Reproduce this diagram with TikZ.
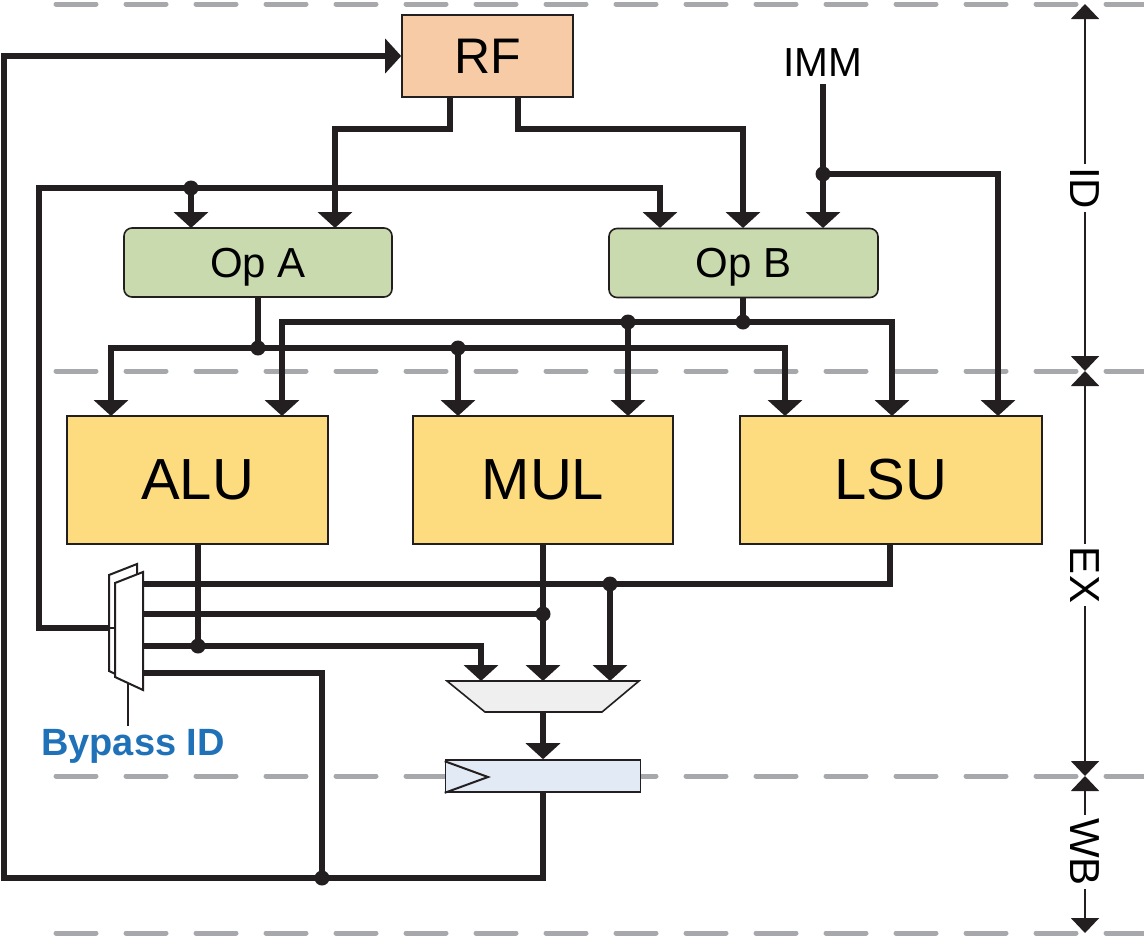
\documentclass[tikz,border=0pt]{standalone}
\usepackage{fontspec}
\setmainfont{Liberation Sans}
\usetikzlibrary{arrows.meta}
\definecolor{ln}{HTML}{231F20}
\definecolor{rfc}{HTML}{F7CBA6}
\definecolor{opc}{HTML}{CADAAF}
\definecolor{exc}{HTML}{FDDC80}
\definecolor{regc}{HTML}{E2EAF5}
\definecolor{muxc}{HTML}{EFEFEF}
\definecolor{dashc}{HTML}{A6A8AB}
\definecolor{bluec}{HTML}{1F71B8}
\tikzset{
  wire/.style={line width=3pt, draw=ln, line join=miter},
  arr/.style={wire, -{Triangle[width=17pt,length=8pt]}},
  jdot/.style={circle, fill=ln, inner sep=0pt, minimum size=7.5pt},
  blk/.style={draw=ln, line width=0.8pt, inner sep=0pt},
  rfbox/.style={blk, fill=rfc, minimum width=85.5pt, minimum height=41pt, font=\fontsize{25}{30}\selectfont},
  opbox/.style={blk, fill=opc, rounded corners=4pt, minimum width=134pt, minimum height=34.5pt, text depth=0pt, font=\fontsize{21}{25}\selectfont},
  exbox/.style={blk, fill=exc, minimum width=130.5pt, minimum height=64pt, font=\fontsize{29}{34}\selectfont},
  regbox/.style={blk, fill=regc, minimum width=97.5pt, minimum height=16pt},
  stagedash/.style={draw=dashc, line width=2.5pt, line cap=round, dash pattern=on 20pt off 15pt},
  stagearr/.style={draw=ln, line width=1pt, {Triangle[width=14pt,length=7.5pt]}-{Triangle[width=14pt,length=7.5pt]}},
  stagelbl/.style={fill=white, inner sep=1.5pt, rotate=-90, font=\fontsize{21}{25}\selectfont},
  thin/.style={draw=ln, line width=1pt, line join=miter},
}
\begin{document}
\begin{tikzpicture}[x=0.5pt,y=-0.5pt]
\useasboundingbox (0,0) rectangle (1144,937);

% stage separators
\draw[stagedash] (56,4) -- (1144,4);
\draw[stagedash] (56,371) -- (1144,371);
\draw[stagedash] (56,776) -- (1144,776);
\draw[stagedash] (56,933) -- (1144,933);

% blocks
\node[rfbox] (rf) at (487.5,56) {RF};
\node[opbox] (opa) at (258,262.5) {Op A};
\node[opbox, minimum width=134.5pt] (opb) at (743.5,263) {Op B};
\node[exbox] (alu) at (197.5,480) {ALU};
\node[exbox, minimum width=130pt] (mul) at (543,480) {MUL};
\node[exbox, minimum width=151pt] (lsu) at (891,480) {LSU};
\node[font=\fontsize{20.3}{24}\selectfont, inner sep=0pt] (imm) at (823,63) {IMM};

% write-back mux
\draw[blk, fill=muxc] (447,681) -- (639,681) -- (602,712) -- (485,712) -- cycle;
\coordinate (mtop) at (543,681);
\coordinate (mbot) at (543,712);

% pipeline register
\node[regbox] (reg) at (543,776) {};
\draw[thin] (reg.north west) ++(0,2) -- (488,777) -- (reg.south west);

% junction coordinates
\coordinate (jbus) at (191,188);
\coordinate (jimm) at (823,174);
\coordinate (ja) at (258,348);
\coordinate (ja2) at (458,348);
\coordinate (jb) at (743,322);
\coordinate (jb2) at (628,322);
\coordinate (jalu) at (198,646);
\coordinate (jmul) at (543,614);
\coordinate (jlsu) at (610,584);
\coordinate (jwb) at (322,878);

% RF outputs
\draw[arr] (450,97) -- (450,129) -- (335,129) -- (335,228);
\draw[arr] (518,97) -- (518,129) -- (743,129) -- (743,228);

% IMM
\draw[arr] (imm.south) ++(0,7) -- (jimm) -- (823,228);
\draw[arr] (jimm) -- (998,174) -- (998,416);

% bypass bus to operands
\draw[wire] (110,628) -- (39,628) -- (39,188) -- (jbus);
\draw[arr] (jbus) -- (660,188) -- (660,228);
\draw[arr] (jbus) -- (191,228);

% Op A distribution
\draw[wire] (opa.south -| ja) -- (ja);
\draw[arr] (ja) -- (111,348) -- (111,416);
\draw[arr] (ja) -- (785,348) -- (785,416);
\draw[arr] (ja2) -- (458,416);

% Op B distribution
\draw[wire] (opb.south -| jb) -- (jb);
\draw[arr] (jb) -- (282,322) -- (282,416);
\draw[arr] (jb) -- (892,322) -- (892,416);
\draw[arr] (jb2) -- (628,416);

% results
\draw[wire] (alu.south -| jalu) -- (jalu);
\draw[arr] (mul.south) -- (mtop);
\draw[wire] (890,544) -- (890,584) -- (143,584);
\draw[arr] (jlsu) -- (610,681);
\draw[wire] (143,614) -- (jmul);
\draw[arr] (143,646) -- (481,646) -- (481,681);
\draw[wire] (143,673) -- (322,673) -- (jwb);

% mux -> register -> write back
\draw[arr] (mbot) -- (reg.north);
\draw[arr] (reg.south) -- (543,878) -- (4,878) -- (4,56) -- (rf.west);

% dots
\foreach \p in {jbus,jimm,ja,ja2,jb,jb2,jalu,jmul,jlsu,jwb} \node[jdot] at (\p) {};

% bypass mux
\draw[thin, fill=white] (109,575) -- (137,564) -- (137,684) -- (109,671) -- cycle;
\draw[thin] (109,628) -- (115,628);
\draw[thin, fill=white] (115,583) -- (143,572) -- (143,690) -- (115,677) -- cycle;
\coordinate (bsel) at (128,683);
\node[text=bluec, font=\bfseries\fontsize{19}{23}\selectfont, text depth=0pt, inner sep=0pt] (byp) at (133,742) {Bypass ID};
\draw[thin] (bsel) -- (128,726);

% stage axis
\coordinate (t0) at (1085,4);
\coordinate (t1) at (1085,371);
\coordinate (t2) at (1085,776);
\coordinate (t3) at (1085,933);
\draw[stagearr] (t0) -- (t1);
\draw[stagearr] (t1) -- (t2);
\draw[stagearr] (t2) -- (t3);
\node[stagelbl] (sid) at (1085,188) {ID};
\node[stagelbl] (sex) at (1085,575) {EX};
\node[stagelbl] (swb) at (1085,852) {WB};
\end{tikzpicture}
\end{document}
